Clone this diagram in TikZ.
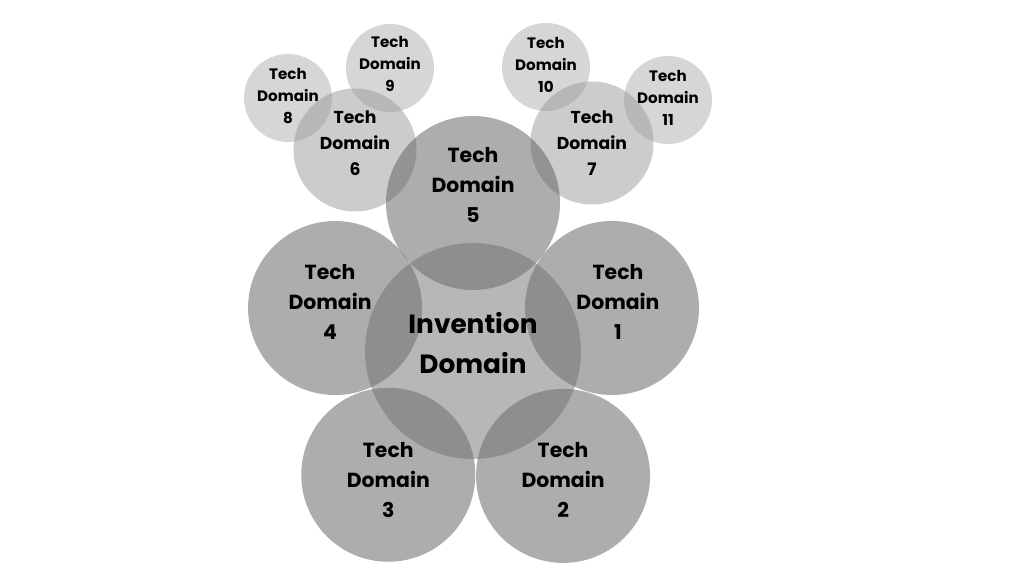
\documentclass[tikz,border=0pt]{standalone}
\usepackage{fontspec}
\setmainfont{Poppins}
\usetikzlibrary{positioning, calc}

\begin{document}
\begin{tikzpicture}[
    bubble/.style={circle, inner sep=0pt, fill opacity=0.5},
    tiny/.style={bubble, fill=black!32, minimum size=1.76cm},
    mid/.style={bubble, fill=black!40, minimum size=2.46cm},
    outer/.style={bubble, fill=black!64, minimum size=3.48cm},
    core/.style={bubble, fill=black!56, minimum size=4.32cm},
    tinytxt/.style={align=center, font=\fontsize{8.6}{12.5}\selectfont\bfseries},
    midtxt/.style={align=center, font=\fontsize{9.8}{14.8}\selectfont\bfseries},
    outertxt/.style={align=center, font=\fontsize{11.6}{17}\selectfont\bfseries},
    coretxt/.style={align=center, font=\fontsize{15}{22.7}\selectfont\bfseries}
]
    \useasboundingbox (0,0) rectangle (20.48,11.52);

    % outer ring of small domains
    \node[tiny] (td8) at (5.76,9.56) {};
    \node[tiny] (td9) at (7.80,10.16) {};
    \node[tiny] (td10) at (10.92,10.18) {};
    \node[tiny] (td11) at (13.36,9.52) {};
    \node[mid] (td6) at (7.10,8.52) {};
    \node[mid] (td7) at (11.84,8.66) {};

    % main ring round the invention
    \coordinate (hub) at (9.46,4.50);
    \node[outer] (td5) at ($(hub)+(90:2.96)$) {};
    \node[outer] (td1) at ($(hub)+(17.2:2.91)$) {};
    \node[outer] (td2) at ($(hub)+(-54.2:3.08)$) {};
    \node[outer] (td3) at ($(hub)+(-124.4:3.0)$) {};
    \node[outer] (td4) at ($(hub)+(162.7:2.89)$) {};
    \node[core] (inv) at (hub) {};

    % labels
    \node[tinytxt] (td8-t) at ([yshift=0.04cm]td8) {Tech\\Domain\\8};
    \node[tinytxt] (td9-t) at ([yshift=0.08cm]td9) {Tech\\Domain\\9};
    \node[tinytxt] (td10-t) at ([yshift=0.04cm]td10) {Tech\\Domain\\10};
    \node[tinytxt] (td11-t) at ([yshift=0.04cm]td11) {Tech\\Domain\\11};
    \node[midtxt] (td6-t) at ([yshift=0.14cm]td6) {Tech\\Domain\\6};
    \node[midtxt] (td7-t) at (td7) {Tech\\Domain\\7};
    \node[outertxt] (td5-t) at ([yshift=0.36cm]td5) {Tech\\Domain\\5};
    \node[outertxt] (td1-t) at ([xshift=0.12cm, yshift=0.12cm]td1) {Tech\\Domain\\1};
    \node[outertxt] (td2-t) at ([yshift=-0.08cm]td2) {Tech\\Domain\\2};
    \node[outertxt] (td3-t) at ([yshift=-0.1cm]td3) {Tech\\Domain\\3};
    \node[outertxt] (td4-t) at ([xshift=-0.1cm, yshift=0.12cm]td4) {Tech\\Domain\\4};
    \node[coretxt] (inv-t) at ([yshift=0.16cm]inv) {Invention\\Domain};
\end{tikzpicture}
\end{document}
